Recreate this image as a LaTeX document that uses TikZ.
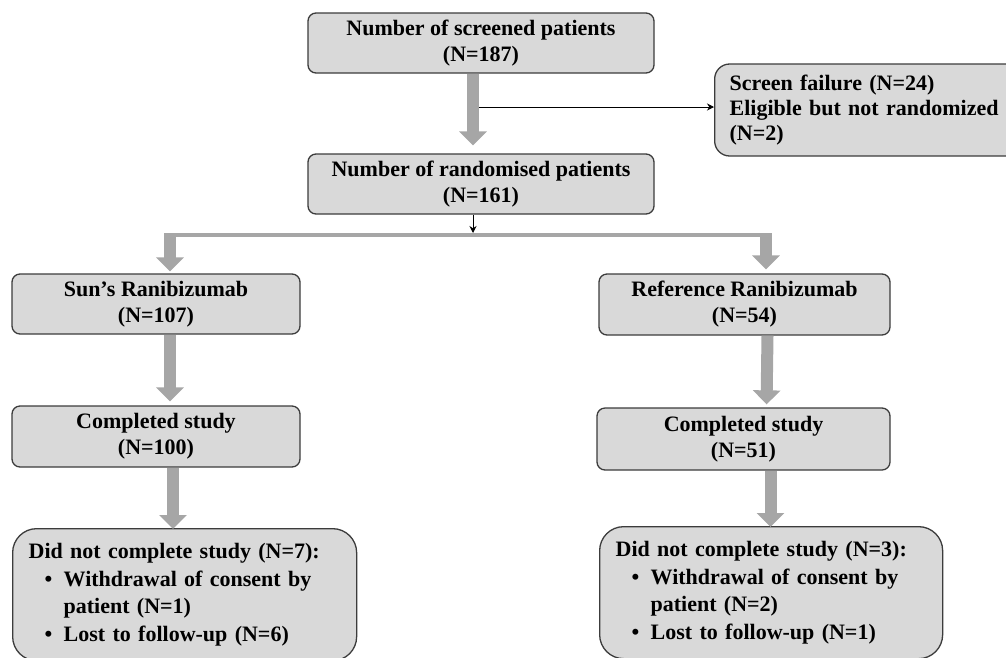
\documentclass[tikz,border=0pt]{standalone}
\usepackage{fontspec}
\setmainfont{Liberation Serif}
\usetikzlibrary{positioning,arrows.meta}

\definecolor{boxfill}{HTML}{D9D9D9}
\definecolor{arrowgray}{HTML}{A6A6A6}
\definecolor{boxline}{HTML}{3C3C3C}
\newcommand{\itembul}{\makebox[35pt][l]{\hspace*{16pt}\textbullet}}

\begin{document}
\begin{tikzpicture}[x=1pt, y=-1pt,
                box/.style={rectangle, draw=boxline, line width=1.3pt, rounded corners=8pt, fill=boxfill, align=center, inner sep=0pt, font=\fontsize{22}{26}\selectfont\bfseries},
                sidebox/.style={box, rounded corners=15pt, align=left, inner xsep=15pt, font=\fontsize{22}{25}\selectfont\bfseries},
                dropbox/.style={box, rounded corners=24pt, align=left, inner xsep=16pt, font=\fontsize{22}{27.5}\selectfont\bfseries},
                bigarrow/.style={draw=arrowgray, line width=12pt, -{Triangle[width=27pt,length=14pt]}},
                thinarrow/.style={draw=black, line width=1pt, -{Stealth[length=7pt,width=7pt]}},
                splitline/.style={draw=arrowgray, line width=4pt}
            ]
            \useasboundingbox (0,0) rectangle (1006,657);
            \clip (0,0) rectangle (1006,657);

            % enrolment
            \node (screened) [box, minimum width=346pt, minimum height=60pt] at (481,43) {Number of screened patients\\(N=187)};
            \node (excluded) [sidebox, anchor=west, minimum height=92pt, text width=290pt] at (714,110) {Screen failure (N=24)\\Eligible but not randomized\\(N=2)};
            \node (randomised) [box, minimum width=346pt, minimum height=60pt] at (481,184) {Number of randomised patients\\(N=161)};

            % allocation
            \node (sunarm) [box, minimum width=288pt, minimum height=60pt] at (156,304) {Sun’s Ranibizumab\\(N=107)};
            \node (refarm) [box, minimum width=291pt, minimum height=61pt] at (744.5,304.5) {Reference Ranibizumab\\(N=54)};
            \node (sundone) [box, minimum width=288pt, minimum height=61pt] at (156,436.5) {Completed study\\(N=100)};
            \node (refdone) [box, minimum width=293pt, minimum height=62pt] at (743.5,439) {Completed study\\(N=51)};
            \node (sundrop) [dropbox, anchor=north west, minimum height=132pt, text width=312pt] at (12,528) {Did not complete study (N=7):\\\itembul Withdrawal of consent by\\\hspace*{35pt}patient (N=1)\\\itembul Lost to follow-up (N=6)};
            \node (refdrop) [dropbox, anchor=north west, minimum height=132pt, text width=311pt] at (599,526) {Did not complete study (N=3):\\\itembul Withdrawal of consent by\\\hspace*{35pt}patient (N=2)\\\itembul Lost to follow-up (N=1)};

            \coordinate (excl) at (479,107);
            \coordinate (split) at (473,233);
            \coordinate (lft) at (170,235);
            \coordinate (rgt) at (766,235);

            % connectors
            \draw[bigarrow, shorten >=8pt] ([xshift=-8pt]screened.south) -- ([xshift=-8pt]randomised.north);
            \draw[thinarrow] (excl) -- (excl -| excluded.west);
            \draw[thinarrow] ([xshift=-8pt]randomised.south) -- (split);
            \draw[splitline] ([xshift=-6pt]lft) -- ([xshift=6pt]rgt);
            \draw[bigarrow, shorten >=2pt] ([yshift=2pt]lft) -- (lft |- sunarm.north);
            \draw[bigarrow, shorten >=4pt] ([yshift=2pt]rgt) -- (rgt |- refarm.north);
            \draw[bigarrow, shorten >=4pt] ([xshift=14pt]sunarm.south) -- ([xshift=14pt]sundone.north);
            \draw[bigarrow, shorten >=3pt] ([xshift=23pt]refarm.south) -- ([xshift=23pt]refdone.north);
            \draw[bigarrow, shorten >=1pt] ([xshift=17pt]sundone.south) -- ([xshift=17pt,yshift=-2pt]sundrop.north -| sundone.south);
            \draw[bigarrow, shorten >=1pt] ([xshift=27pt]refdone.south) -- ([xshift=27pt,yshift=-2pt]refdrop.north -| refdone.south);
\end{tikzpicture}
\end{document}
